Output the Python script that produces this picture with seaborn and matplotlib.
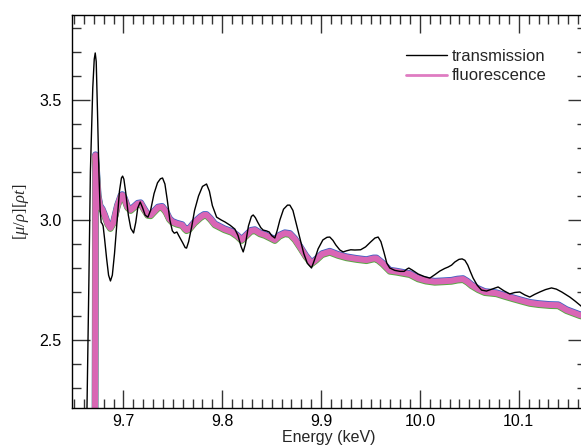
import numpy as np
import pandas as pd
import matplotlib
matplotlib.use("Agg")
import matplotlib.pyplot as plt
import matplotlib.transforms as mtransforms
from matplotlib.ticker import MultipleLocator
from matplotlib.lines import Line2D
import seaborn as sns

# ---------------- data ----------------
trans_energy = [9.6611, 9.6631, 9.6651, 9.6666, 9.6690, 9.6705, 9.6715, 9.6725, 9.6738, 9.6752,
                9.6765, 9.6775, 9.6785, 9.6795, 9.6810, 9.6830, 9.6850, 9.6869, 9.6888, 9.6910,
                9.6935, 9.6960, 9.6980, 9.6992, 9.7005, 9.7025, 9.7050, 9.7075, 9.7103, 9.7125,
                9.7145, 9.7170, 9.7195, 9.7220, 9.7248, 9.7275, 9.7310, 9.7345, 9.7375, 9.7396,
                9.7420, 9.7445, 9.7470, 9.7495, 9.7515, 9.7541, 9.7560, 9.7600, 9.7625, 9.7639,
                9.7660, 9.7690, 9.7720, 9.7760, 9.7800, 9.7841, 9.7870, 9.7900, 9.7943, 9.7990,
                9.8027, 9.8080, 9.8128, 9.8160, 9.8190, 9.8212, 9.8235, 9.8265, 9.8295, 9.8313,
                9.8335, 9.8360, 9.8390, 9.8414, 9.8445, 9.8475, 9.8500, 9.8532, 9.8555, 9.8583,
                9.8620, 9.8660, 9.8684, 9.8715, 9.8745, 9.8785, 9.8825, 9.8860, 9.8903, 9.8930,
                9.8970, 9.9018, 9.9060, 9.9088, 9.9120, 9.9149, 9.9190, 9.9223, 9.9260, 9.9300,
                9.9341, 9.9400, 9.9450, 9.9500, 9.9545, 9.9577, 9.9605, 9.9635, 9.9665, 9.9695,
                9.9746, 9.9800, 9.9840, 9.9870, 9.9887, 9.9920, 9.9982, 10.0040, 10.0100, 10.0150,
                10.0200, 10.0250, 10.0285, 10.0320, 10.0353, 10.0395, 10.0427, 10.0455, 10.0484,
                10.0510, 10.0538, 10.0580, 10.0623, 10.0673, 10.0730, 10.0791, 10.0850, 10.0909,
                10.0960, 10.1010, 10.1060, 10.1111, 10.1160, 10.1212, 10.1270, 10.1331, 10.1380,
                10.1435, 10.1516, 10.1570, 10.1617, 10.1678]
trans_mu = [2.00, 2.20, 2.75, 3.20, 3.55, 3.67, 3.696, 3.66, 3.45, 3.20,
            3.04, 2.99, 2.985, 2.975, 2.92, 2.84, 2.77, 2.746, 2.77, 2.86,
            2.99, 3.12, 3.175, 3.183, 3.17, 3.11, 3.02, 2.965, 2.946, 2.99,
            3.05, 3.075, 3.05, 3.02, 3.012, 3.04, 3.11, 3.155, 3.172, 3.175,
            3.15, 3.08, 3.00, 2.955, 2.945, 2.950, 2.935, 2.905, 2.885, 2.883,
            2.91, 2.97, 3.04, 3.10, 3.14, 3.15, 3.12, 3.06, 3.012, 3.00,
            2.992, 2.978, 2.962, 2.935, 2.89, 2.867, 2.90, 2.975, 3.015, 3.021,
            3.01, 2.99, 2.968, 2.958, 2.955, 2.950, 2.935, 2.925, 2.955, 3.00,
            3.045, 3.062, 3.062, 3.04, 2.99, 2.925, 2.86, 2.82, 2.80, 2.83,
            2.88, 2.917, 2.928, 2.929, 2.915, 2.896, 2.875, 2.867, 2.872, 2.876,
            2.875, 2.876, 2.888, 2.908, 2.925, 2.929, 2.91, 2.867, 2.82, 2.80,
            2.79, 2.786, 2.786, 2.796, 2.800, 2.792, 2.775, 2.765, 2.758, 2.772,
            2.787, 2.798, 2.804, 2.812, 2.825, 2.836, 2.838, 2.832, 2.812,
            2.785, 2.758, 2.728, 2.708, 2.704, 2.712, 2.721, 2.705, 2.692,
            2.698, 2.700, 2.688, 2.679, 2.690, 2.700, 2.710, 2.717, 2.712,
            2.700, 2.679, 2.662, 2.646, 2.625]

fluo_energy = [9.6712, 9.6718, 9.6730, 9.6745, 9.6765, 9.6785, 9.6810, 9.6840, 9.6868, 9.6900,
               9.6940, 9.6975, 9.6988, 9.7010, 9.7040, 9.7073, 9.7110, 9.7145, 9.7175, 9.7210,
               9.7245, 9.7276, 9.7310, 9.7350, 9.7392, 9.7430, 9.7465, 9.7493, 9.7540, 9.7594,
               9.7620, 9.7639, 9.7670, 9.7720, 9.7780, 9.7815, 9.7841, 9.7880, 9.7925, 9.7959,
               9.8020, 9.8094, 9.8150, 9.8196, 9.8240, 9.8290, 9.8330, 9.8380, 9.8431, 9.8480,
               9.8532, 9.8580, 9.8633, 9.8684, 9.8735, 9.8785, 9.8845, 9.8903, 9.8950, 9.9010,
               9.9088, 9.9170, 9.9257, 9.9360, 9.9459, 9.9530, 9.9560, 9.9620, 9.9695, 9.9763,
               9.9830, 9.9897, 9.9982, 10.0060, 10.0150, 10.0240, 10.0319, 10.0380, 10.0436,
               10.0480, 10.0521, 10.0590, 10.0656, 10.0774, 10.0860, 10.0943, 10.1030, 10.1111,
               10.1200, 10.1313, 10.1400, 10.1482, 10.1617, 10.1678]
fluo_mu = [1.90, 3.27, 3.20, 3.10, 3.055, 3.045, 3.02, 2.985, 2.967, 2.99,
           3.06, 3.10, 3.104, 3.09, 3.055, 3.042, 3.055, 3.068, 3.070, 3.045,
           3.022, 3.020, 3.035, 3.052, 3.055, 3.035, 3.005, 2.993, 2.985, 2.979,
           2.965, 2.958, 2.965, 2.99, 3.012, 3.021, 3.021, 3.005, 2.982, 2.975,
           2.962, 2.951, 2.935, 2.917, 2.935, 2.955, 2.958, 2.945, 2.938, 2.928,
           2.917, 2.935, 2.945, 2.942, 2.92, 2.889, 2.85, 2.82, 2.835, 2.858,
           2.868, 2.855, 2.845, 2.838, 2.833, 2.84, 2.840, 2.82, 2.789, 2.785,
           2.780, 2.775, 2.757, 2.748, 2.743, 2.745, 2.747, 2.752, 2.754,
           2.743, 2.729, 2.712, 2.700, 2.695, 2.684, 2.674, 2.664, 2.655,
           2.650, 2.646, 2.645, 2.625, 2.604, 2.598]

x_ticks = [9.7, 9.8, 9.9, 10.0, 10.1]
y_ticks = [2.5, 3.0, 3.5]
legend_labels = ["transmission", "fluorescence"]

df_t = pd.DataFrame({"energy": trans_energy, "mu": trans_mu})
df_f = pd.DataFrame({"energy": fluo_energy, "mu": fluo_mu})

# ---------------- figure ----------------
sns.set_style("ticks")
plt.rcParams["font.family"] = ["Liberation Sans", "DejaVu Sans"]
plt.rcParams["mathtext.fontset"] = "custom"
plt.rcParams["mathtext.it"] = "Liberation Serif:italic"
plt.rcParams["mathtext.rm"] = "Liberation Serif"

fig = plt.figure(figsize=(5.81, 4.45), dpi=100)
W, H = 581, 445
ax = fig.add_axes([72 / W, (H - 408) / H, (586 - 72) / W, (408 - 15) / H])

line_kw = dict(estimator=None, sort=False, legend=False, ax=ax)
# fluorescence channels (coloured fringes underneath, pink on top)
sns.lineplot(data=df_f, x="energy", y="mu", color="#3d5fc4", lw=4.8,
             solid_joinstyle="round", **line_kw)
ln_b = ax.lines[-1]
ln_b.set_transform(ax.transData + mtransforms.ScaledTranslation(0, 0.5 / 100, fig.dpi_scale_trans))
sns.lineplot(data=df_f, x="energy", y="mu", color="#5aa845", lw=4.6,
             solid_joinstyle="round", **line_kw)
ln_g = ax.lines[-1]
ln_g.set_transform(ax.transData + mtransforms.ScaledTranslation(0, -0.8 / 100, fig.dpi_scale_trans))
sns.lineplot(data=df_f, x="energy", y="mu", color="#d966b5", lw=4.3,
             solid_joinstyle="round", **line_kw)
sns.lineplot(data=df_t, x="energy", y="mu", color="black", lw=1.0,
             solid_joinstyle="round", **line_kw)

ax.set_xlim(9.648, 10.168)
ax.set_ylim(2.2167, 3.8542)
ax.set_xticks(x_ticks)
ax.set_xticklabels([f"{v:.1f}" for v in x_ticks])
ax.set_yticks(y_ticks)
ax.set_yticklabels([f"{v:.1f}" for v in y_ticks])
ax.xaxis.set_minor_locator(MultipleLocator(0.01))
ax.yaxis.set_minor_locator(MultipleLocator(0.1))
ax.tick_params(which="both", direction="in", top=True, right=True, colors="#333333",
               labelcolor="black", labelsize=11.5)
ax.tick_params(which="major", length=13, width=1.0)
ax.tick_params(axis="x", which="major", pad=4)
ax.tick_params(axis="y", which="major", pad=7.5)
ax.tick_params(which="minor", length=6.5, width=1.0)
for s in ax.spines.values():
    s.set_linewidth(1.0)
    s.set_color("black")

ax.set_xlabel("Energy (keV)", fontsize=11.5, labelpad=1)
ax.set_ylabel(r"$[\mu/\rho][\rho t]$", fontsize=12, labelpad=6)

handles = [Line2D([], [], color="black", lw=1.0),
           Line2D([], [], color="#df7cc2", lw=2.0)]
ax.legend(handles, legend_labels, loc="upper right",
          bbox_to_anchor=(0.952, 0.952), frameon=False, fontsize=12,
          handlelength=2.45, handletextpad=0.3, labelspacing=0.27)

fig.savefig("out.png", dpi=100)
